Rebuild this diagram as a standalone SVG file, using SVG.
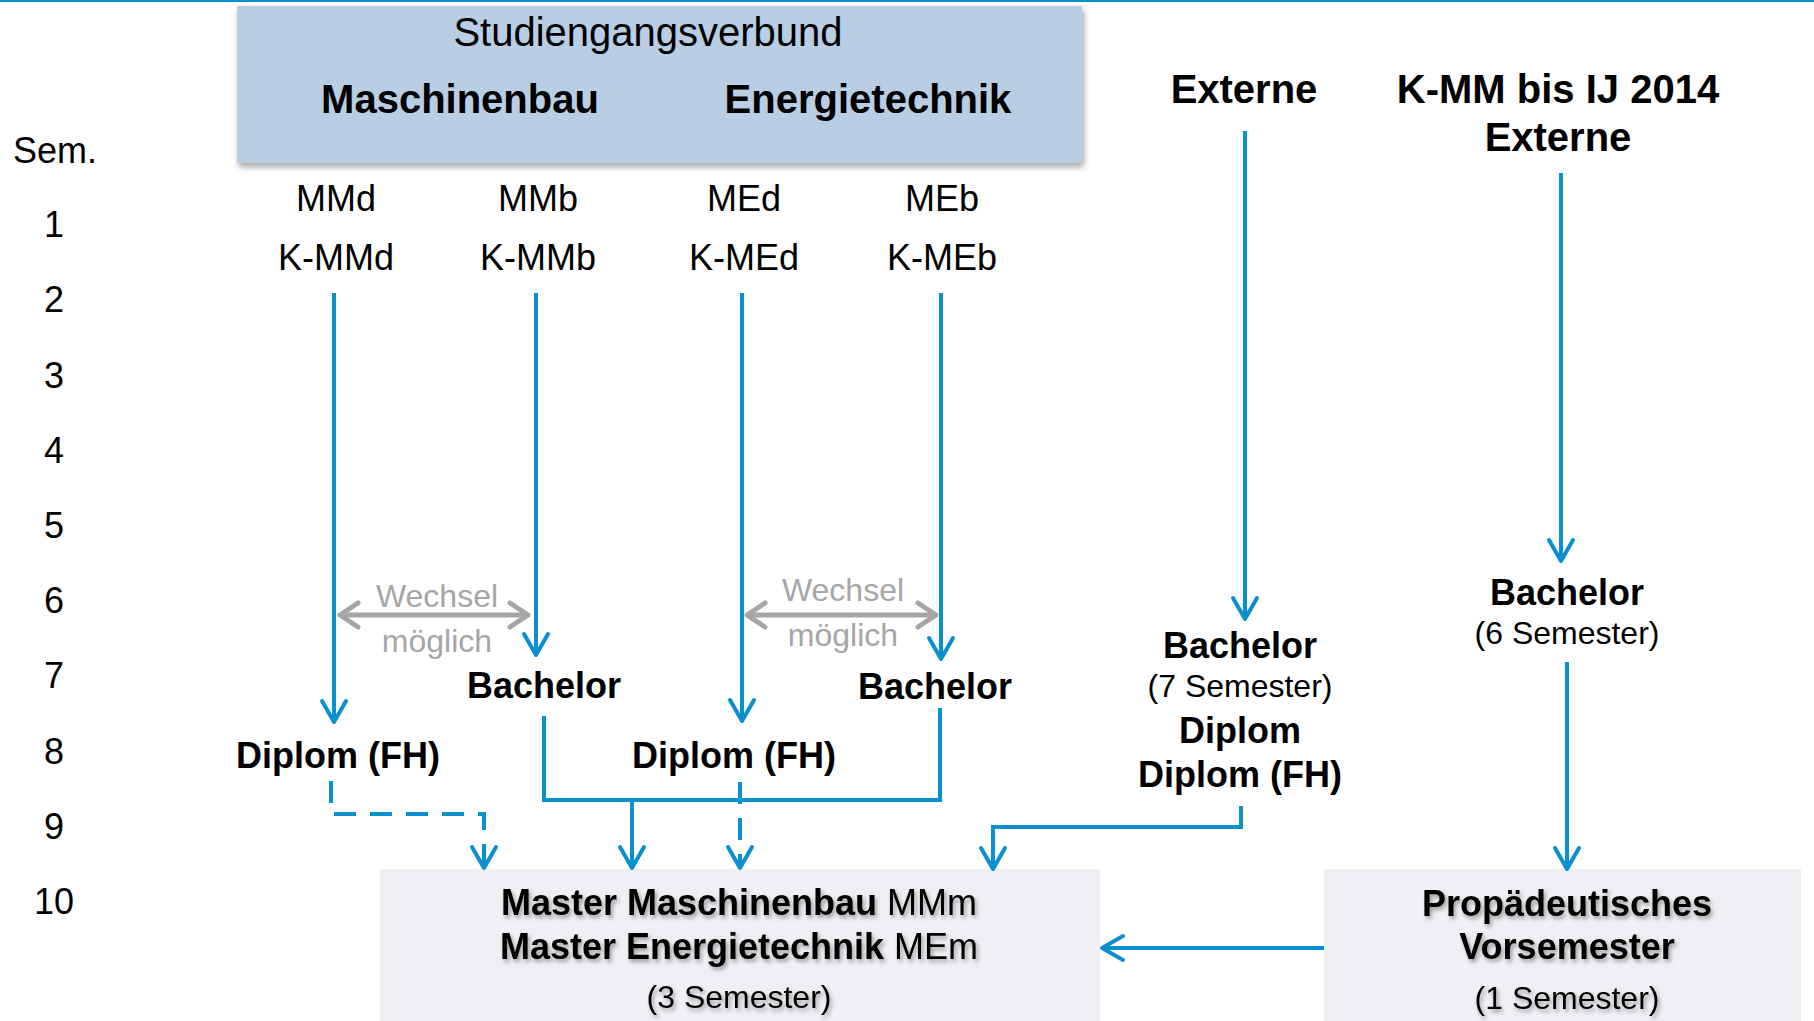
<svg xmlns="http://www.w3.org/2000/svg" width="1814" height="1021" viewBox="0 0 1814 1021">
<style>
text{font-family:"Liberation Sans",Arial,sans-serif;fill:#000}
.b{font-weight:bold}
.t40{font-size:40px}
.t36{font-size:36px}
.t32{font-size:32px}
.g{fill:#a6a6a6;font-size:32px}
.ln{fill:none;stroke:#0a8fcf;stroke-width:4}
.dash{stroke-dasharray:22 14}
.gl{fill:none;stroke:#a6a6a6;stroke-width:5}
</style>
<defs>
<marker id="ah" markerUnits="userSpaceOnUse" markerWidth="30" markerHeight="30" viewBox="-25 -15 30 30" refX="0" refY="0" orient="auto">
<path d="M-21,-12 L0,0 L-21,12" fill="none" stroke="#0a8fcf" stroke-width="4" stroke-linecap="round" stroke-linejoin="round"/>
</marker>
<marker id="gh" markerUnits="userSpaceOnUse" markerWidth="30" markerHeight="30" viewBox="-25 -15 30 30" refX="0" refY="0" orient="auto-start-reverse">
<path d="M-18,-12 L0,0 L-18,12" fill="none" stroke="#a6a6a6" stroke-width="5" stroke-linecap="round" stroke-linejoin="round"/>
</marker>
<filter id="bs" x="-5%" y="-10%" width="115%" height="130%">
<feDropShadow dx="2" dy="4" stdDeviation="3" flood-color="#000" flood-opacity="0.35"/>
</filter>
<filter id="ts" x="-5%" y="-20%" width="115%" height="150%">
<feDropShadow dx="2" dy="3" stdDeviation="2" flood-color="#000" flood-opacity="0.35"/>
</filter>
</defs>
<rect x="0" y="0" width="1814" height="2" fill="#0a8fcf"/>

<g id="header">
<rect x="237" y="6" width="845" height="157" fill="#b9cde5" filter="url(#bs)"/>
<text class="t40" x="648" y="46" text-anchor="middle">Studiengangsverbund</text>
<text class="t40 b" x="460" y="113" text-anchor="middle">Maschinenbau</text>
<text class="t40 b" x="868" y="113" text-anchor="middle">Energietechnik</text>
</g>

<g id="semester-axis">
<text class="t36" x="13" y="163">Sem.</text>
<text class="t36" x="54" y="237" text-anchor="middle">1</text>
<text class="t36" x="54" y="312" text-anchor="middle">2</text>
<text class="t36" x="54" y="388" text-anchor="middle">3</text>
<text class="t36" x="54" y="463" text-anchor="middle">4</text>
<text class="t36" x="54" y="538" text-anchor="middle">5</text>
<text class="t36" x="54" y="613" text-anchor="middle">6</text>
<text class="t36" x="54" y="688" text-anchor="middle">7</text>
<text class="t36" x="54" y="764" text-anchor="middle">8</text>
<text class="t36" x="54" y="839" text-anchor="middle">9</text>
<text class="t36" x="54" y="914" text-anchor="middle">10</text>
</g>

<g id="col-mmd">
<text class="t36" x="336" y="211" text-anchor="middle">MMd</text>
<text class="t36" x="336" y="270" text-anchor="middle">K-MMd</text>
</g>
<g id="col-mmb">
<text class="t36" x="538" y="211" text-anchor="middle">MMb</text>
<text class="t36" x="538" y="270" text-anchor="middle">K-MMb</text>
</g>
<g id="col-med">
<text class="t36" x="744" y="211" text-anchor="middle">MEd</text>
<text class="t36" x="744" y="270" text-anchor="middle">K-MEd</text>
</g>
<g id="col-meb">
<text class="t36" x="942" y="211" text-anchor="middle">MEb</text>
<text class="t36" x="942" y="270" text-anchor="middle">K-MEb</text>
</g>

<g id="diplom-mm"><text class="t36 b" x="338" y="768" text-anchor="middle">Diplom (FH)</text></g>
<g id="bachelor-mm"><text class="t36 b" x="544" y="698" text-anchor="middle">Bachelor</text></g>
<g id="diplom-me"><text class="t36 b" x="734" y="768" text-anchor="middle">Diplom (FH)</text></g>
<g id="bachelor-me"><text class="t36 b" x="935" y="699" text-anchor="middle">Bachelor</text></g>

<g id="externe">
<text class="t40 b" x="1244" y="103" text-anchor="middle">Externe</text>
</g>
<g id="kmm-externe">
<text class="t40 b" x="1558" y="103" text-anchor="middle">K-MM bis IJ 2014</text>
<text class="t40 b" x="1558" y="151" text-anchor="middle">Externe</text>
</g>
<g id="abschluss-extern">
<text class="t36 b" x="1240" y="658" text-anchor="middle">Bachelor</text>
<text class="t32" x="1240" y="697" text-anchor="middle">(7 Semester)</text>
<text class="t36 b" x="1240" y="743" text-anchor="middle">Diplom</text>
<text class="t36 b" x="1240" y="787" text-anchor="middle">Diplom (FH)</text>
</g>
<g id="bachelor-6">
<text class="t36 b" x="1567" y="605" text-anchor="middle">Bachelor</text>
<text class="t32" x="1567" y="644" text-anchor="middle">(6 Semester)</text>
</g>

<g id="master">
<rect x="380" y="869" width="720" height="152" fill="#eff0f4"/>
<g filter="url(#ts)">
<text class="t36" x="739" y="915" text-anchor="middle"><tspan class="b">Master Maschinenbau</tspan> MMm</text>
<text class="t36" x="739" y="959" text-anchor="middle"><tspan class="b">Master Energietechnik</tspan> MEm</text>
<text class="t32" x="739" y="1008" text-anchor="middle">(3 Semester)</text>
</g>
</g>

<g id="vorsemester">
<rect x="1324" y="869" width="477" height="152" fill="#eff0f4"/>
<g filter="url(#ts)">
<text class="t36 b" x="1567" y="916" text-anchor="middle">Propädeutisches</text>
<text class="t36 b" x="1567" y="959" text-anchor="middle">Vorsemester</text>
<text class="t32" x="1567" y="1009" text-anchor="middle">(1 Semester)</text>
</g>
</g>

<g id="wechsel">
<line class="gl" x1="340" y1="615" x2="528" y2="615" marker-start="url(#gh)" marker-end="url(#gh)"/>
<text class="g" x="437" y="607" text-anchor="middle">Wechsel</text>
<text class="g" x="437" y="652" text-anchor="middle">möglich</text>
<line class="gl" x1="747" y1="615" x2="936" y2="615" marker-start="url(#gh)" marker-end="url(#gh)"/>
<text class="g" x="843" y="601" text-anchor="middle">Wechsel</text>
<text class="g" x="843" y="646" text-anchor="middle">möglich</text>
</g>

<g id="connectors">
<line class="ln" x1="334" y1="293" x2="334" y2="722" marker-end="url(#ah)"/>
<line class="ln" x1="536" y1="293" x2="536" y2="655" marker-end="url(#ah)"/>
<line class="ln" x1="742" y1="293" x2="742" y2="721" marker-end="url(#ah)"/>
<line class="ln" x1="941" y1="293" x2="941" y2="659" marker-end="url(#ah)"/>
<path class="ln" d="M544,716 V800 H940 V708" stroke-width="4.5"/>
<line class="ln" x1="632" y1="800" x2="632" y2="868" marker-end="url(#ah)"/>
<path class="ln dash" d="M331,781 V814 H484 V868" marker-end="url(#ah)"/>
<path class="ln dash" d="M740,782 V868" marker-end="url(#ah)"/>
<line class="ln" x1="1245" y1="131" x2="1245" y2="619" marker-end="url(#ah)"/>
<line class="ln" x1="1561" y1="173" x2="1561" y2="561" marker-end="url(#ah)"/>
<line class="ln" x1="1567" y1="662" x2="1567" y2="869" marker-end="url(#ah)"/>
<path class="ln" d="M1241,806 V827 H993 V869" marker-end="url(#ah)"/>
<line class="ln" x1="1324" y1="948" x2="1102" y2="948" marker-end="url(#ah)"/>
</g>
</svg>
